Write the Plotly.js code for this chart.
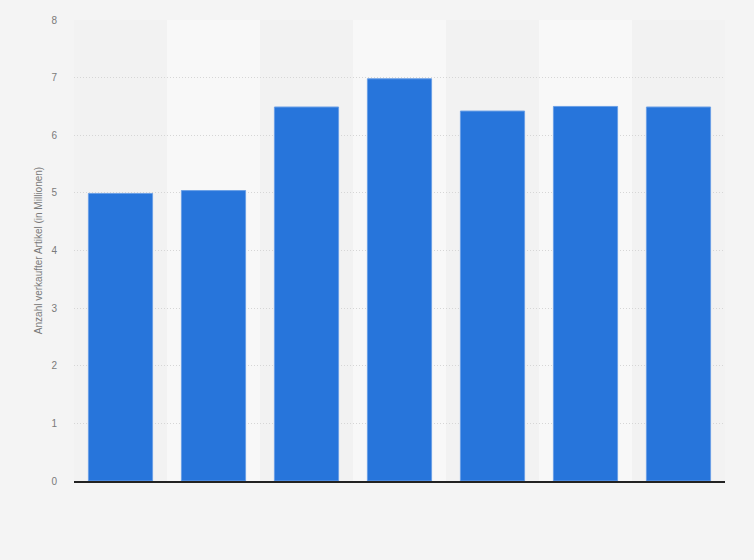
<!DOCTYPE html>
<html>
<head>
<meta charset="utf-8">
<script src="https://cdn.plot.ly/plotly-3.0.1.min.js"></script>
<style>
  body { margin: 0; background: #f4f4f4; }
  #chart { width: 754px; height: 560px; }
</style>
</head>
<body>
<div id="chart"></div>
<script>
// values (no category labels are shown)
const categories = ['1', '2', '3', '4', '5', '6', '7'];
const soldItems = [4.99, 5.04, 6.49, 6.98, 6.42, 6.5, 6.49];
const yTicks = [0, 1, 2, 3, 4, 5, 6, 7, 8];

// lighter background band behind every second column
const bands = [1, 3, 5].map(i => ({
    type: 'rect', xref: 'x', yref: 'paper',
    x0: i - 0.5, x1: i + 0.5, y0: 0, y1: 1,
    fillcolor: '#f8f8f8', line: { width: 0 }, layer: 'below'
}));

Plotly.newPlot('chart', [{
    x: categories,
    y: soldItems,
    type: 'bar',
    marker: { color: '#2775db', line: { color: '#6a9fe6', width: 1 } },
    hoverinfo: 'y'
}], {
    width: 754,
    height: 560,
    margin: { l: 74, r: 29, t: 20, b: 79 },
    paper_bgcolor: '#f4f4f4',
    plot_bgcolor: '#f2f2f2',
    bargap: 0.31,
    showlegend: false,
    font: { family: 'Liberation Sans, Arial, sans-serif', size: 10, color: '#666' },
    xaxis: {
        type: 'category',
        showticklabels: false,
        showgrid: false,
        showline: true,
        linecolor: '#222',
        linewidth: 1.5,
        ticks: '',
        fixedrange: true
    },
    yaxis: {
        range: [0, 8],
        tickvals: yTicks,
        ticktext: yTicks.map(String),
        showgrid: true,
        gridcolor: '#d6d6d6',
        griddash: '1px,2px',
        zeroline: false,
        ticks: 'outside',
        ticklen: 14,
        tickcolor: 'rgba(0,0,0,0)',
        tickfont: { size: 10, color: '#7a7a7a' },
        title: {
            text: 'Anzahl verkaufter Artikel (in Millionen)',
            font: { size: 10, color: '#7a7a7a' },
            standoff: 6
        },
        automargin: false,
        fixedrange: true
    },
    shapes: bands
}, { displayModeBar: false, staticPlot: true });
</script>
</body>
</html>
